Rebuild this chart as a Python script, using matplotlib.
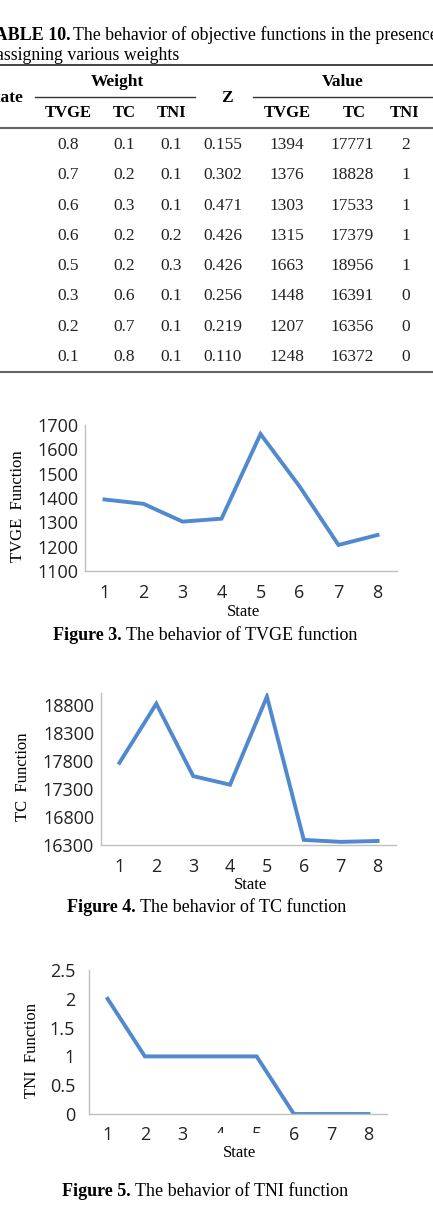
import matplotlib
matplotlib.use('Agg')
import matplotlib.pyplot as plt
from matplotlib.lines import Line2D
from matplotlib.patches import Rectangle
from matplotlib.transforms import blended_transform_factory

# table data
states = [1, 2, 3, 4, 5, 6, 7, 8]
w_tvge = ['0.8', '0.7', '0.6', '0.6', '0.5', '0.3', '0.2', '0.1']
w_tc = ['0.1', '0.2', '0.3', '0.2', '0.2', '0.6', '0.7', '0.8']
w_tni = ['0.1', '0.1', '0.1', '0.2', '0.3', '0.1', '0.1', '0.1']
z_vals = ['0.155', '0.302', '0.471', '0.426', '0.426', '0.256', '0.219', '0.110']
v_tvge = [1394, 1376, 1303, 1315, 1663, 1448, 1207, 1248]
v_tc = [17771, 18828, 17533, 17379, 18956, 16391, 16356, 16372]
v_tni = [2, 1, 1, 1, 1, 0, 0, 0]

W, H = 433, 1208
fig = plt.figure(figsize=(W / 100, H / 100), dpi=100)

SERIF = ['Liberation Serif', 'DejaVu Serif']
SANS = ['Open Sans', 'DejaVu Sans']
LINE_COLOR = '#5189CF'
AXIS_COLOR = '#BFBFBF'


def fx(x):
    return x / W


def fy(y):
    return 1 - y / H


def text(x, y, s, **kw):
    kw.setdefault('family', SERIF)
    kw.setdefault('ha', 'center')
    kw.setdefault('va', 'center')
    return fig.text(fx(x), fy(y), s, **kw)


def hline(x0, x1, y, lw=1.0, color='black'):
    fig.add_artist(Line2D([fx(x0), fx(x1)], [fy(y), fy(y)], lw=lw, color=color,
                          transform=fig.transFigure))


# ---- table ----
text(-16, 35, 'TABLE 10.', ha='left', fontsize=13, fontweight='bold')
text(73, 35, 'The behavior of objective functions in the presence of', ha='left', fontsize=12.8)
text(-4, 55, 'assigning various weights', ha='left', fontsize=12.8)

hline(0, W, 65, lw=1.2, color='#222222')
text(117, 82, 'Weight', fontsize=12.5, fontweight='bold')
text(343, 82, 'Value', fontsize=12.5, fontweight='bold')
text(4, 98, 'State', fontsize=12.5, fontweight='bold')
text(227, 98, 'Z', fontsize=12.5, fontweight='bold')
hline(35, 195, 97, lw=1.0, color='#333333')
hline(253, W, 97, lw=1.0, color='#333333')

col_x = [68, 124, 171, 223, 287, 352, 406]
for x, lab in zip([68, 124, 172, 287, 354, 405], ['TVGE', 'TC', 'TNI', 'TVGE', 'TC', 'TNI']):
    text(x, 113, lab, fontsize=12, fontweight='bold')
hline(0, W, 128, lw=1.5, color='#666666')

for i, s in enumerate(states):
    y = 145 + i * 30.3
    row = [w_tvge[i], w_tc[i], w_tni[i], z_vals[i], str(v_tvge[i]), str(v_tc[i]), str(v_tni[i])]
    for x, val in zip(col_x, row):
        text(x, y, val, fontsize=12.5, color='#222222')
hline(0, W, 372, lw=1.5, color='#666666')


# ---- charts ----
def make_chart(left, right, top, bottom, values, ylim, yticks, ylabel, ylabel_x,
               xlabel_y, pad):
    ax = fig.add_axes([fx(left), fy(bottom), fx(right - left), (bottom - top) / H])
    ax.plot(states, values, color=LINE_COLOR, lw=2.8, solid_joinstyle='miter')
    ax.set_xlim(0.5, 8.5)
    ax.set_ylim(*ylim)
    ax.set_xticks(states)
    ax.set_yticks(yticks)
    ax.set_yticklabels([f'{t:g}' for t in yticks])
    for side in ['top', 'right']:
        ax.spines[side].set_visible(False)
    for side in ['left', 'bottom']:
        ax.spines[side].set_color(AXIS_COLOR)
        ax.spines[side].set_linewidth(1.0)
    ax.tick_params(length=0, labelsize=13, colors='#222222')
    ax.tick_params(axis='y', pad=pad)
    ax.tick_params(axis='x', pad=9)
    for lab in ax.get_xticklabels() + ax.get_yticklabels():
        lab.set_family(SANS)
    ax.patch.set_alpha(0)
    text(ylabel_x, (top + bottom) / 2 + 8, ylabel, rotation=90, fontsize=12)
    text((left + right) / 2 + 2, xlabel_y, 'State', fontsize=12)
    return ax


make_chart(85, 397, 425, 571, v_tvge, (1100, 1700), [1100, 1200, 1300, 1400, 1500, 1600, 1700],
           'TVGE  Function', 18, 612, 5)
make_chart(101, 396, 693, 845, v_tc, (16300, 19020), [16300, 16800, 17300, 17800, 18300, 18800],
           'TC  Function', 23, 885, 5)
ax3 = make_chart(89, 387, 970, 1114, v_tni, (0, 2.5), [0, 0.5, 1, 1.5, 2, 2.5],
                 'TNI  Function', 32, 1153, 10)

# the scanned source lost the lower part of tick labels 4 and 5
mask = blended_transform_factory(ax3.transData, fig.transFigure)
fig.add_artist(Rectangle((3.6, fy(1146)), 1.8, (1146 - 1133) / H, transform=mask,
                         facecolor='white', edgecolor='none', zorder=10))

# captions (bold label + regular text)
for x0, y, bold, rest in [(53, 635, 'Figure 3.', 'The behavior of TVGE function'),
                          (67, 907, 'Figure 4.', 'The behavior of TC function'),
                          (62, 1192, 'Figure 5.', 'The behavior of TNI function')]:
    t = text(x0, y, bold, ha='left', fontsize=13, fontweight='bold')
    fig.canvas.draw()
    bb = t.get_window_extent()
    text(bb.x1 + 4, y, rest, ha='left', fontsize=13)

fig.savefig('out.png', dpi=100)
